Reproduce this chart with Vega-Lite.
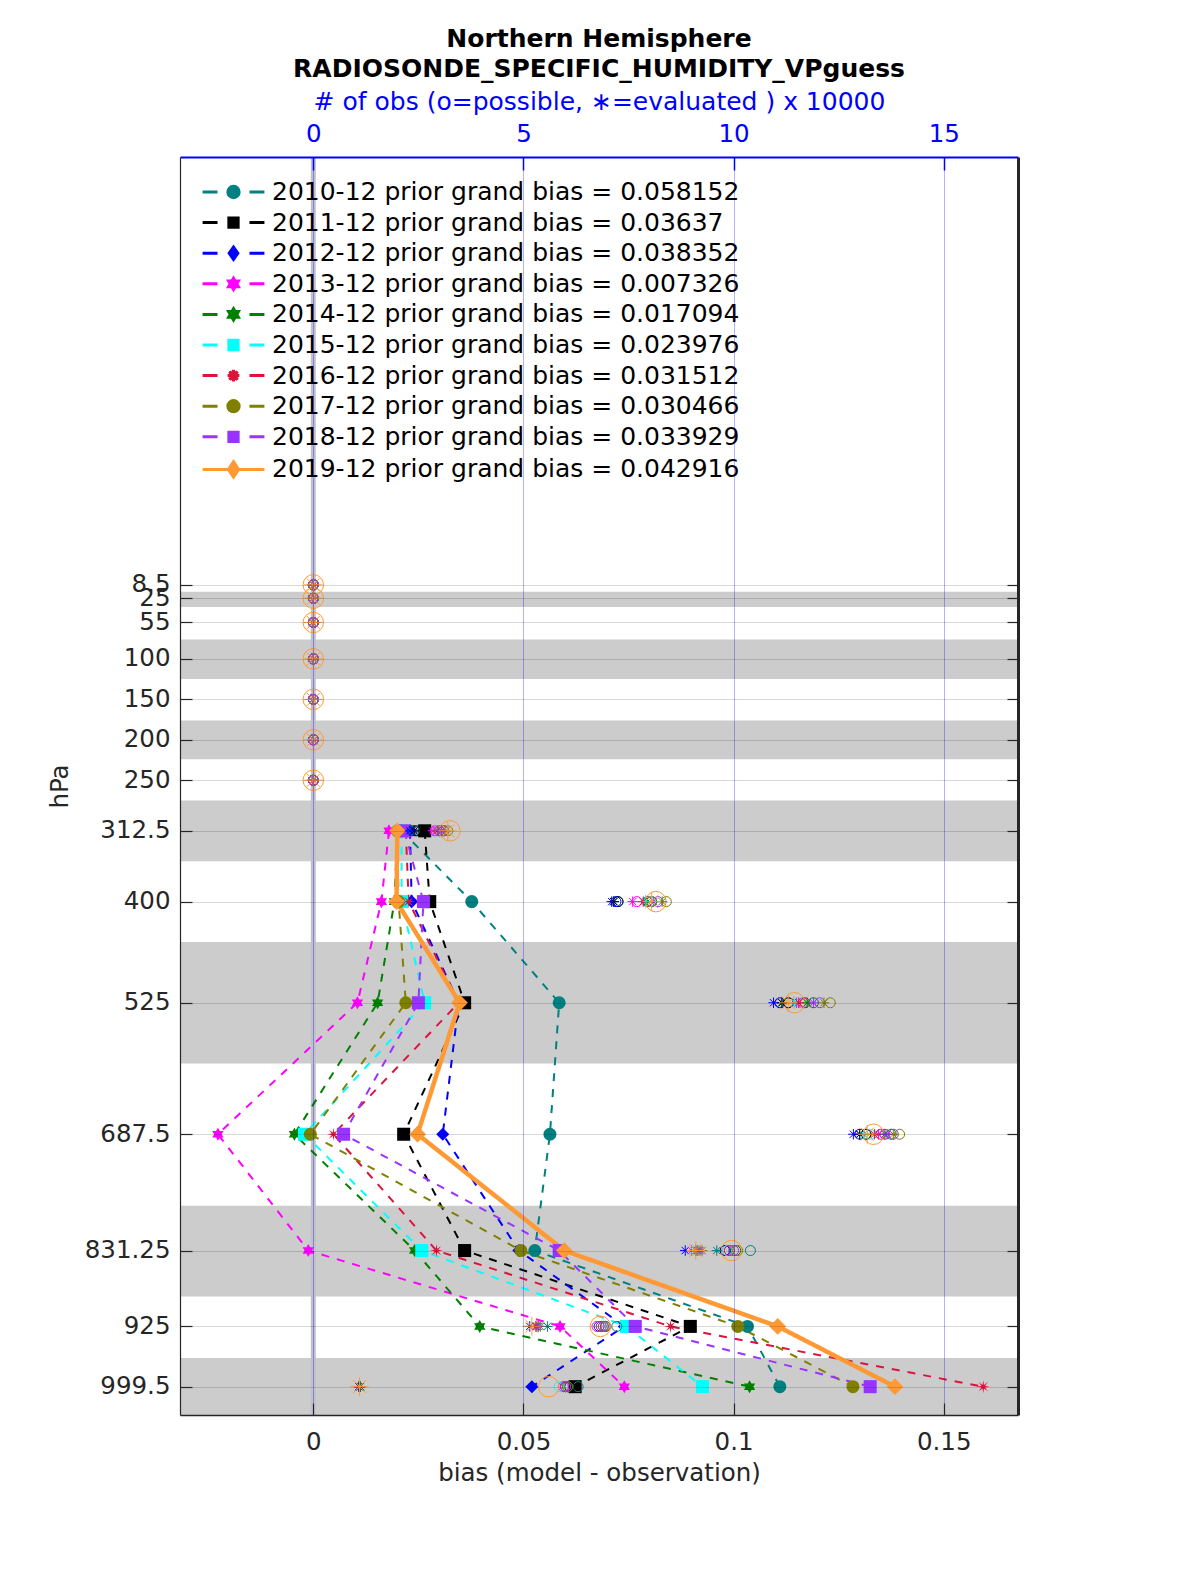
{
  "$schema": "https://vega.github.io/schema/vega-lite/v6.json",
  "width": 838,
  "height": 1258,
  "autosize": {"type": "none"},
  "padding": {"left": 180, "top": 157, "right": 182, "bottom": 160},
  "background": "white",
  "config": {"view": {"stroke": null}, "font": "DejaVu Sans"},
  "title": {
    "text": ["Northern Hemisphere", "RADIOSONDE_SPECIFIC_HUMIDITY_VPguess"],
    "font": "DejaVu Sans", "fontSize": 25, "fontWeight": "bold", "color": "#000000",
    "lineHeight": 30, "anchor": "middle", "offset": 7
  },
  "datasets": {
    "bands": [
      {"lo": 17, "hi": 36}, {"lo": 76, "hi": 125}, {"lo": 176, "hi": 224},
      {"lo": 275, "hi": 350}, {"lo": 450, "hi": 600}, {"lo": 776, "hi": 888}, {"lo": 964, "hi": 1034.5}
    ],
    "bias": [
      {"s": "2010-12", "p": 312.5, "b": 0.021}, {"s": "2010-12", "p": 400, "b": 0.0377}, {"s": "2010-12", "p": 525, "b": 0.0585}, {"s": "2010-12", "p": 687.5, "b": 0.0563}, {"s": "2010-12", "p": 831.25, "b": 0.0527}, {"s": "2010-12", "p": 925, "b": 0.1033}, {"s": "2010-12", "p": 999.5, "b": 0.111},
      {"s": "2011-12", "p": 312.5, "b": 0.0265}, {"s": "2011-12", "p": 400, "b": 0.0277}, {"s": "2011-12", "p": 525, "b": 0.036}, {"s": "2011-12", "p": 687.5, "b": 0.0215}, {"s": "2011-12", "p": 831.25, "b": 0.036}, {"s": "2011-12", "p": 925, "b": 0.0897}, {"s": "2011-12", "p": 999.5, "b": 0.0623},
      {"s": "2012-12", "p": 312.5, "b": 0.023}, {"s": "2012-12", "p": 400, "b": 0.0234}, {"s": "2012-12", "p": 525, "b": 0.0346}, {"s": "2012-12", "p": 687.5, "b": 0.0308}, {"s": "2012-12", "p": 831.25, "b": 0.0489}, {"s": "2012-12", "p": 925, "b": 0.074}, {"s": "2012-12", "p": 999.5, "b": 0.052},
      {"s": "2013-12", "p": 312.5, "b": 0.018}, {"s": "2013-12", "p": 400, "b": 0.0162}, {"s": "2013-12", "p": 525, "b": 0.0105}, {"s": "2013-12", "p": 687.5, "b": -0.0227}, {"s": "2013-12", "p": 831.25, "b": -0.0012}, {"s": "2013-12", "p": 925, "b": 0.0587}, {"s": "2013-12", "p": 999.5, "b": 0.074},
      {"s": "2014-12", "p": 312.5, "b": 0.02}, {"s": "2014-12", "p": 400, "b": 0.0193}, {"s": "2014-12", "p": 525, "b": 0.0153}, {"s": "2014-12", "p": 687.5, "b": -0.0045}, {"s": "2014-12", "p": 831.25, "b": 0.0241}, {"s": "2014-12", "p": 925, "b": 0.0396}, {"s": "2014-12", "p": 999.5, "b": 0.1038},
      {"s": "2015-12", "p": 312.5, "b": 0.021}, {"s": "2015-12", "p": 400, "b": 0.021}, {"s": "2015-12", "p": 525, "b": 0.0265}, {"s": "2015-12", "p": 687.5, "b": -0.0021}, {"s": "2015-12", "p": 831.25, "b": 0.0258}, {"s": "2015-12", "p": 925, "b": 0.0745}, {"s": "2015-12", "p": 999.5, "b": 0.0926},
      {"s": "2016-12", "p": 312.5, "b": 0.022}, {"s": "2016-12", "p": 400, "b": 0.0227}, {"s": "2016-12", "p": 525, "b": 0.0346}, {"s": "2016-12", "p": 687.5, "b": 0.0048}, {"s": "2016-12", "p": 831.25, "b": 0.0293}, {"s": "2016-12", "p": 925, "b": 0.085}, {"s": "2016-12", "p": 999.5, "b": 0.1594},
      {"s": "2017-12", "p": 312.5, "b": 0.02}, {"s": "2017-12", "p": 400, "b": 0.0203}, {"s": "2017-12", "p": 525, "b": 0.022}, {"s": "2017-12", "p": 687.5, "b": -0.0007}, {"s": "2017-12", "p": 831.25, "b": 0.0494}, {"s": "2017-12", "p": 925, "b": 0.101}, {"s": "2017-12", "p": 999.5, "b": 0.1284},
      {"s": "2018-12", "p": 312.5, "b": 0.0217}, {"s": "2018-12", "p": 400, "b": 0.0262}, {"s": "2018-12", "p": 525, "b": 0.025}, {"s": "2018-12", "p": 687.5, "b": 0.0072}, {"s": "2018-12", "p": 831.25, "b": 0.0585}, {"s": "2018-12", "p": 925, "b": 0.0766}, {"s": "2018-12", "p": 999.5, "b": 0.1325},
      {"s": "2019-12", "p": 312.5, "b": 0.02}, {"s": "2019-12", "p": 400, "b": 0.0198}, {"s": "2019-12", "p": 525, "b": 0.0348}, {"s": "2019-12", "p": 687.5, "b": 0.0248}, {"s": "2019-12", "p": 831.25, "b": 0.0597}, {"s": "2019-12", "p": 925, "b": 0.1105}, {"s": "2019-12", "p": 999.5, "b": 0.1384}
    ],
    "obs": [
      {"s": "2010-12", "p": 8.5, "poss": 0, "ev": 0}, {"s": "2010-12", "p": 25, "poss": 0, "ev": 0}, {"s": "2010-12", "p": 55, "poss": 0, "ev": 0}, {"s": "2010-12", "p": 100, "poss": 0, "ev": 0}, {"s": "2010-12", "p": 150, "poss": 0, "ev": 0}, {"s": "2010-12", "p": 200, "poss": 0, "ev": 0}, {"s": "2010-12", "p": 250, "poss": 0, "ev": 0},
      {"s": "2010-12", "p": 312.5, "poss": 2.4, "ev": 2.35}, {"s": "2010-12", "p": 400, "poss": 7.25, "ev": 7.15}, {"s": "2010-12", "p": 525, "poss": 11.3, "ev": 11.15}, {"s": "2010-12", "p": 687.5, "poss": 13.15, "ev": 13.0}, {"s": "2010-12", "p": 831.25, "poss": 10.4, "ev": 9.6}, {"s": "2010-12", "p": 925, "poss": 7.22, "ev": 5.57}, {"s": "2010-12", "p": 999.5, "poss": 6.3, "ev": 1.12},
      {"s": "2011-12", "p": 8.5, "poss": 0, "ev": 0}, {"s": "2011-12", "p": 25, "poss": 0, "ev": 0}, {"s": "2011-12", "p": 55, "poss": 0, "ev": 0}, {"s": "2011-12", "p": 100, "poss": 0, "ev": 0}, {"s": "2011-12", "p": 150, "poss": 0, "ev": 0}, {"s": "2011-12", "p": 200, "poss": 0, "ev": 0}, {"s": "2011-12", "p": 250, "poss": 0, "ev": 0},
      {"s": "2011-12", "p": 312.5, "poss": 2.45, "ev": 2.4}, {"s": "2011-12", "p": 400, "poss": 7.25, "ev": 7.15}, {"s": "2011-12", "p": 525, "poss": 11.3, "ev": 11.15}, {"s": "2011-12", "p": 687.5, "poss": 13.15, "ev": 13.0}, {"s": "2011-12", "p": 831.25, "poss": 9.8, "ev": 9.1}, {"s": "2011-12", "p": 925, "poss": 6.95, "ev": 5.3}, {"s": "2011-12", "p": 999.5, "poss": 6.1, "ev": 1.1},
      {"s": "2012-12", "p": 8.5, "poss": 0, "ev": 0}, {"s": "2012-12", "p": 25, "poss": 0, "ev": 0}, {"s": "2012-12", "p": 55, "poss": 0, "ev": 0}, {"s": "2012-12", "p": 100, "poss": 0, "ev": 0}, {"s": "2012-12", "p": 150, "poss": 0, "ev": 0}, {"s": "2012-12", "p": 200, "poss": 0, "ev": 0}, {"s": "2012-12", "p": 250, "poss": 0, "ev": 0},
      {"s": "2012-12", "p": 312.5, "poss": 2.35, "ev": 2.3}, {"s": "2012-12", "p": 400, "poss": 7.2, "ev": 7.1}, {"s": "2012-12", "p": 525, "poss": 11.1, "ev": 10.95}, {"s": "2012-12", "p": 687.5, "poss": 13.0, "ev": 12.85}, {"s": "2012-12", "p": 831.25, "poss": 9.8, "ev": 8.85}, {"s": "2012-12", "p": 925, "poss": 6.8, "ev": 5.15}, {"s": "2012-12", "p": 999.5, "poss": 6.0, "ev": 1.08},
      {"s": "2013-12", "p": 8.5, "poss": 0, "ev": 0}, {"s": "2013-12", "p": 25, "poss": 0, "ev": 0}, {"s": "2013-12", "p": 55, "poss": 0, "ev": 0}, {"s": "2013-12", "p": 100, "poss": 0, "ev": 0}, {"s": "2013-12", "p": 150, "poss": 0, "ev": 0}, {"s": "2013-12", "p": 200, "poss": 0, "ev": 0}, {"s": "2013-12", "p": 250, "poss": 0, "ev": 0},
      {"s": "2013-12", "p": 312.5, "poss": 2.9, "ev": 2.85}, {"s": "2013-12", "p": 400, "poss": 7.7, "ev": 7.6}, {"s": "2013-12", "p": 525, "poss": 11.65, "ev": 11.5}, {"s": "2013-12", "p": 687.5, "poss": 13.6, "ev": 13.45}, {"s": "2013-12", "p": 831.25, "poss": 9.85, "ev": 9.0}, {"s": "2013-12", "p": 925, "poss": 6.75, "ev": 5.3}, {"s": "2013-12", "p": 999.5, "poss": 5.95, "ev": 1.1},
      {"s": "2014-12", "p": 8.5, "poss": 0, "ev": 0}, {"s": "2014-12", "p": 25, "poss": 0, "ev": 0}, {"s": "2014-12", "p": 55, "poss": 0, "ev": 0}, {"s": "2014-12", "p": 100, "poss": 0, "ev": 0}, {"s": "2014-12", "p": 150, "poss": 0, "ev": 0}, {"s": "2014-12", "p": 200, "poss": 0, "ev": 0}, {"s": "2014-12", "p": 250, "poss": 0, "ev": 0},
      {"s": "2014-12", "p": 312.5, "poss": 3.1, "ev": 3.05}, {"s": "2014-12", "p": 400, "poss": 8.05, "ev": 7.95}, {"s": "2014-12", "p": 525, "poss": 11.9, "ev": 11.75}, {"s": "2014-12", "p": 687.5, "poss": 13.75, "ev": 13.6}, {"s": "2014-12", "p": 831.25, "poss": 10.05, "ev": 9.15}, {"s": "2014-12", "p": 925, "poss": 6.9, "ev": 5.35}, {"s": "2014-12", "p": 999.5, "poss": 6.05, "ev": 1.12},
      {"s": "2015-12", "p": 8.5, "poss": 0, "ev": 0}, {"s": "2015-12", "p": 25, "poss": 0, "ev": 0}, {"s": "2015-12", "p": 55, "poss": 0, "ev": 0}, {"s": "2015-12", "p": 100, "poss": 0, "ev": 0}, {"s": "2015-12", "p": 150, "poss": 0, "ev": 0}, {"s": "2015-12", "p": 200, "poss": 0, "ev": 0}, {"s": "2015-12", "p": 250, "poss": 0, "ev": 0},
      {"s": "2015-12", "p": 312.5, "poss": 3.0, "ev": 2.95}, {"s": "2015-12", "p": 400, "poss": 8.0, "ev": 7.9}, {"s": "2015-12", "p": 525, "poss": 11.6, "ev": 11.45}, {"s": "2015-12", "p": 687.5, "poss": 13.25, "ev": 13.1}, {"s": "2015-12", "p": 831.25, "poss": 9.85, "ev": 9.05}, {"s": "2015-12", "p": 925, "poss": 6.85, "ev": 5.4}, {"s": "2015-12", "p": 999.5, "poss": 5.85, "ev": 1.1},
      {"s": "2016-12", "p": 8.5, "poss": 0, "ev": 0}, {"s": "2016-12", "p": 25, "poss": 0, "ev": 0}, {"s": "2016-12", "p": 55, "poss": 0, "ev": 0}, {"s": "2016-12", "p": 100, "poss": 0, "ev": 0}, {"s": "2016-12", "p": 150, "poss": 0, "ev": 0}, {"s": "2016-12", "p": 200, "poss": 0, "ev": 0}, {"s": "2016-12", "p": 250, "poss": 0, "ev": 0},
      {"s": "2016-12", "p": 312.5, "poss": 3.0, "ev": 2.95}, {"s": "2016-12", "p": 400, "poss": 7.95, "ev": 7.85}, {"s": "2016-12", "p": 525, "poss": 11.7, "ev": 11.55}, {"s": "2016-12", "p": 687.5, "poss": 13.5, "ev": 13.35}, {"s": "2016-12", "p": 831.25, "poss": 9.9, "ev": 9.1}, {"s": "2016-12", "p": 925, "poss": 6.85, "ev": 5.3}, {"s": "2016-12", "p": 999.5, "poss": 6.0, "ev": 1.1},
      {"s": "2017-12", "p": 8.5, "poss": 0, "ev": 0}, {"s": "2017-12", "p": 25, "poss": 0, "ev": 0}, {"s": "2017-12", "p": 55, "poss": 0, "ev": 0}, {"s": "2017-12", "p": 100, "poss": 0, "ev": 0}, {"s": "2017-12", "p": 150, "poss": 0, "ev": 0}, {"s": "2017-12", "p": 200, "poss": 0, "ev": 0}, {"s": "2017-12", "p": 250, "poss": 0, "ev": 0},
      {"s": "2017-12", "p": 312.5, "poss": 3.2, "ev": 3.15}, {"s": "2017-12", "p": 400, "poss": 8.4, "ev": 8.3}, {"s": "2017-12", "p": 525, "poss": 12.3, "ev": 12.15}, {"s": "2017-12", "p": 687.5, "poss": 13.95, "ev": 13.8}, {"s": "2017-12", "p": 831.25, "poss": 10.1, "ev": 9.25}, {"s": "2017-12", "p": 925, "poss": 6.95, "ev": 5.4}, {"s": "2017-12", "p": 999.5, "poss": 6.05, "ev": 1.1},
      {"s": "2018-12", "p": 8.5, "poss": 0, "ev": 0}, {"s": "2018-12", "p": 25, "poss": 0, "ev": 0}, {"s": "2018-12", "p": 55, "poss": 0, "ev": 0}, {"s": "2018-12", "p": 100, "poss": 0, "ev": 0}, {"s": "2018-12", "p": 150, "poss": 0, "ev": 0}, {"s": "2018-12", "p": 200, "poss": 0, "ev": 0}, {"s": "2018-12", "p": 250, "poss": 0, "ev": 0},
      {"s": "2018-12", "p": 312.5, "poss": 3.1, "ev": 3.05}, {"s": "2018-12", "p": 400, "poss": 8.2, "ev": 8.1}, {"s": "2018-12", "p": 525, "poss": 12.05, "ev": 11.9}, {"s": "2018-12", "p": 687.5, "poss": 13.8, "ev": 13.65}, {"s": "2018-12", "p": 831.25, "poss": 10.0, "ev": 9.2}, {"s": "2018-12", "p": 925, "poss": 6.9, "ev": 5.35}, {"s": "2018-12", "p": 999.5, "poss": 6.0, "ev": 1.1},
      {"s": "2019-12", "p": 8.5, "poss": 0, "ev": 0}, {"s": "2019-12", "p": 25, "poss": 0, "ev": 0}, {"s": "2019-12", "p": 55, "poss": 0, "ev": 0}, {"s": "2019-12", "p": 100, "poss": 0, "ev": 0}, {"s": "2019-12", "p": 150, "poss": 0, "ev": 0}, {"s": "2019-12", "p": 200, "poss": 0, "ev": 0}, {"s": "2019-12", "p": 250, "poss": 0, "ev": 0},
      {"s": "2019-12", "p": 312.5, "poss": 3.25, "ev": 3.2}, {"s": "2019-12", "p": 400, "poss": 8.15, "ev": 8.05}, {"s": "2019-12", "p": 525, "poss": 11.45, "ev": 11.3}, {"s": "2019-12", "p": 687.5, "poss": 13.33, "ev": 13.18}, {"s": "2019-12", "p": 831.25, "poss": 9.95, "ev": 9.1}, {"s": "2019-12", "p": 925, "poss": 6.83, "ev": 5.2}, {"s": "2019-12", "p": 999.5, "poss": 5.6, "ev": 1.1}
    ],
    "legend": [
      {"label": "2010-12 prior grand bias = 0.058152"},
      {"label": "2011-12 prior grand bias = 0.03637"},
      {"label": "2012-12 prior grand bias = 0.038352"},
      {"label": "2013-12 prior grand bias = 0.007326"},
      {"label": "2014-12 prior grand bias = 0.017094"},
      {"label": "2015-12 prior grand bias = 0.023976"},
      {"label": "2016-12 prior grand bias = 0.031512"},
      {"label": "2017-12 prior grand bias = 0.030466"},
      {"label": "2018-12 prior grand bias = 0.033929"},
      {"label": "2019-12 prior grand bias = 0.042916"}
    ]
  },
  "layer": [
    {
      "layer": [
        {
          "data": {"name": "bands"},
          "mark": {"type": "rect", "color": "#cccccc"},
          "encoding": {
            "y": {
              "field": "lo", "type": "quantitative",
              "scale": {"domain": [-520.3, 1034.5], "reverse": true, "nice": false, "zero": false},
              "axis": {
                "orient": "left",
                "values": [8.5, 25, 55, 100, 150, 200, 250, 312.5, 400, 525, 687.5, 831.25, 925, 999.5],
                "labelExpr": "'' + datum.value",
                "labelOverlap": false, "labelFlush": false, "labelBound": false,
                "labelFontSize": 24.5, "labelColor": "#262626", "labelFont": "DejaVu Sans",
                "labelPadding": 22,
                "tickSize": -12, "tickColor": "#262626", "tickWidth": 1.2,
                "domainColor": "#262626", "domainWidth": 1.2,
                "grid": true, "gridColor": "#000000", "gridOpacity": 0.15,
                "title": "hPa", "titleFontSize": 24.5, "titleFontWeight": "normal", "titleColor": "#262626", "titleFont": "DejaVu Sans", "titlePadding": 12,
                "zindex": 1
              }
            },
            "y2": {"field": "hi"}
          }
        },
        {
          "data": {"values": [{"b": 0}]},
          "mark": {"type": "rule", "color": "#c0c0c8", "strokeWidth": 5},
          "encoding": {
            "x": {
              "field": "b", "type": "quantitative",
              "scale": {"domain": [-0.03172, 0.16767], "nice": false, "zero": false},
              "axis": {
                "orient": "bottom",
                "values": [0, 0.05, 0.1, 0.15],
                "labelExpr": "'' + datum.value",
                "labelOverlap": false, "labelFlush": false, "labelBound": false,
                "labelFontSize": 24.5, "labelColor": "#262626", "labelFont": "DejaVu Sans",
                "labelPadding": 27,
                "tickSize": -12, "tickColor": "#262626", "tickWidth": 1.2,
                "domainColor": "#262626", "domainWidth": 1.5,
                "grid": false,
                "title": "bias (model - observation)", "titleFontSize": 24.5, "titleFontWeight": "normal", "titleColor": "#262626", "titleFont": "DejaVu Sans", "titlePadding": 8,
                "zindex": 1
              }
            }
          }
        },
        {
          "data": {"name": "bias"},
          "mark": {"type": "line", "strokeCap": "butt"},
          "encoding": {
            "x": {"field": "b", "type": "quantitative"},
            "y": {"field": "p", "type": "quantitative"},
            "order": {"field": "p", "type": "quantitative"},
            "color": {
              "field": "s", "type": "nominal", "legend": null,
              "scale": {
                "domain": ["2010-12", "2011-12", "2012-12", "2013-12", "2014-12", "2015-12", "2016-12", "2017-12", "2018-12", "2019-12"],
                "range": ["#008080", "#000000", "#0000ff", "#ff00ff", "#008000", "#00ffff", "#dc143c", "#808000", "#9933ff", "#ff9933"]
              }
            },
            "strokeDash": {"condition": {"test": "datum.s === '2019-12'", "value": [1, 0]}, "value": [8, 8]},
            "strokeWidth": {"condition": {"test": "datum.s === '2019-12'", "value": 4.5}, "value": 2}
          }
        },
        {
          "data": {"name": "bias"},
          "mark": {"type": "point", "filled": true, "opacity": 1},
          "encoding": {
            "x": {"field": "b", "type": "quantitative"},
            "y": {"field": "p", "type": "quantitative"},
            "color": {
              "field": "s", "type": "nominal", "legend": null,
              "scale": {
                "domain": ["2010-12", "2011-12", "2012-12", "2013-12", "2014-12", "2015-12", "2016-12", "2017-12", "2018-12", "2019-12"],
                "range": ["#008080", "#000000", "#0000ff", "#ff00ff", "#008000", "#00ffff", "#dc143c", "#808000", "#9933ff", "#ff9933"]
              }
            },
            "shape": {
              "field": "s", "type": "nominal", "legend": null,
              "scale": {
                "domain": ["2010-12", "2011-12", "2012-12", "2013-12", "2014-12", "2015-12", "2016-12", "2017-12", "2018-12", "2019-12"],
                "range": [
                  "circle", "square", "diamond",
                  "M0,-1L0.289,-0.5L0.866,-0.5L0.577,0L0.866,0.5L0.289,0.5L0,1L-0.289,0.5L-0.866,0.5L-0.577,0L-0.866,-0.5L-0.289,-0.5Z",
                  "M0,-1L0.289,-0.5L0.866,-0.5L0.577,0L0.866,0.5L0.289,0.5L0,1L-0.289,0.5L-0.866,0.5L-0.577,0L-0.866,-0.5L-0.289,-0.5Z",
                  "square",
                  "M1,0L0.277,0.115L0.707,0.707L0.115,0.277L0,1L-0.115,0.277L-0.707,0.707L-0.277,0.115L-1,0L-0.277,-0.115L-0.707,-0.707L-0.115,-0.277L0,-1L0.115,-0.277L0.707,-0.707L0.277,-0.115Z",
                  "circle", "square", "diamond"
                ]
              }
            },
            "size": {"condition": {"test": "datum.s === '2019-12'", "value": 280}, "value": 170}
          }
        }
      ]
    },
    {
      "layer": [
        {
          "data": {"name": "obs"},
          "mark": {"type": "point", "filled": false, "shape": "circle", "strokeWidth": 1, "opacity": 1},
          "encoding": {
            "x": {
              "field": "poss", "type": "quantitative",
              "scale": {"domain": [-3.172, 16.767], "nice": false, "zero": false},
              "axis": {
                "orient": "top",
                "values": [0, 5, 10, 15],
                "labelOverlap": false, "labelFlush": false, "labelBound": false,
                "labelFontSize": 24.5, "labelColor": "#0000ff", "labelFont": "DejaVu Sans",
                "labelPadding": 24,
                "tickSize": -13, "tickColor": "#0000ff", "tickWidth": 1.5,
                "domainColor": "#0000ff", "domainWidth": 2,
                "grid": true, "gridColor": "#0000ff", "gridOpacity": 0.3,
                "title": "# of obs (o=possible, \u2217=evaluated ) x 10000", "titleFontSize": 25, "titleFontWeight": "normal", "titleColor": "#0000ff", "titleFont": "DejaVu Sans", "titlePadding": 7,
                "zindex": 1
              }
            },
            "y": {
              "field": "p", "type": "quantitative",
              "axis": {
                "orient": "right",
                "values": [8.5, 25, 55, 100, 150, 200, 250, 312.5, 400, 525, 687.5, 831.25, 925, 999.5],
                "labels": false, "title": null, "grid": false,
                "tickSize": -11, "tickColor": "#262626", "tickWidth": 1.2,
                "domainColor": "#262626", "domainWidth": 3,
                "zindex": 1
              }
            },
            "color": {
              "field": "s", "type": "nominal", "legend": null,
              "scale": {
                "domain": ["2010-12", "2011-12", "2012-12", "2013-12", "2014-12", "2015-12", "2016-12", "2017-12", "2018-12", "2019-12"],
                "range": ["#008080", "#000000", "#0000ff", "#ff00ff", "#008000", "#00ffff", "#dc143c", "#808000", "#9933ff", "#ff9933"]
              }
            },
            "size": {"condition": {"test": "datum.s === '2019-12'", "value": 420}, "value": 100}
          }
        },
        {
          "data": {"name": "obs"},
          "mark": {"type": "point", "filled": false, "strokeWidth": 1, "opacity": 1,
                   "shape": "M-1,0L1,0M0,-1L0,1M-0.7,-0.7L0.7,0.7M-0.7,0.7L0.7,-0.7"},
          "encoding": {
            "x": {"field": "ev", "type": "quantitative"},
            "y": {"field": "p", "type": "quantitative"},
            "color": {
              "field": "s", "type": "nominal", "legend": null,
              "scale": {
                "domain": ["2010-12", "2011-12", "2012-12", "2013-12", "2014-12", "2015-12", "2016-12", "2017-12", "2018-12", "2019-12"],
                "range": ["#008080", "#000000", "#0000ff", "#ff00ff", "#008000", "#00ffff", "#dc143c", "#808000", "#9933ff", "#ff9933"]
              }
            },
            "size": {"condition": {"test": "datum.s === '2019-12'", "value": 340}, "value": 110}
          }
        }
      ]
    },
    {
      "data": {"name": "legend"},
      "mark": {"type": "point", "filled": true, "opacity": 0},
      "encoding": {
        "fill": {
          "field": "label", "type": "nominal",
          "scale": {
            "domain": ["2010-12 prior grand bias = 0.058152", "2011-12 prior grand bias = 0.03637", "2012-12 prior grand bias = 0.038352", "2013-12 prior grand bias = 0.007326", "2014-12 prior grand bias = 0.017094", "2015-12 prior grand bias = 0.023976", "2016-12 prior grand bias = 0.031512", "2017-12 prior grand bias = 0.030466", "2018-12 prior grand bias = 0.033929", "2019-12 prior grand bias = 0.042916"],
            "range": ["#008080", "#000000", "#0000ff", "#ff00ff", "#008000", "#00ffff", "#dc143c", "#808000", "#9933ff", "#ff9933"]
          },
          "legend": {"orient": "none", "legendX": 41, "legendY": 22.5, "title": null, "labelFontSize": 25, "labelFont": "DejaVu Sans", "labelColor": "#000000", "labelLimit": 0, "symbolSize": 425, "symbolStrokeWidth": 3, "symbolOpacity": 1, "labelOffset": 26, "rowPadding": 4.6, "padding": 0}
        },
        "stroke": {
          "field": "label", "type": "nominal",
          "scale": {
            "domain": ["2010-12 prior grand bias = 0.058152", "2011-12 prior grand bias = 0.03637", "2012-12 prior grand bias = 0.038352", "2013-12 prior grand bias = 0.007326", "2014-12 prior grand bias = 0.017094", "2015-12 prior grand bias = 0.023976", "2016-12 prior grand bias = 0.031512", "2017-12 prior grand bias = 0.030466", "2018-12 prior grand bias = 0.033929", "2019-12 prior grand bias = 0.042916"],
            "range": ["#008080", "#000000", "#0000ff", "#ff00ff", "#008000", "#00ffff", "#dc143c", "#808000", "#9933ff", "#ff9933"]
          },
          "legend": {"orient": "none", "legendX": 41, "legendY": 22.5, "title": null, "labelFontSize": 25, "labelFont": "DejaVu Sans", "labelColor": "#000000", "labelLimit": 0, "symbolSize": 425, "symbolStrokeWidth": 3, "symbolOpacity": 1, "labelOffset": 26, "rowPadding": 4.6, "padding": 0}
        },
        "shape": {
          "field": "label", "type": "nominal",
          "scale": {
            "domain": ["2010-12 prior grand bias = 0.058152", "2011-12 prior grand bias = 0.03637", "2012-12 prior grand bias = 0.038352", "2013-12 prior grand bias = 0.007326", "2014-12 prior grand bias = 0.017094", "2015-12 prior grand bias = 0.023976", "2016-12 prior grand bias = 0.031512", "2017-12 prior grand bias = 0.030466", "2018-12 prior grand bias = 0.033929", "2019-12 prior grand bias = 0.042916"],
            "range": [
              "M-3,0L-1.55,0M1.55,0L3,0M-0.55,0A0.55,0.55 0 1,0 0.55,0A0.55,0.55 0 1,0 -0.55,0Z",
              "M-3,0L-1.55,0M1.55,0L3,0M-0.45,-0.45L0.45,-0.45L0.45,0.45L-0.45,0.45Z",
              "M-3,0L-1.55,0M1.55,0L3,0M0,-0.6L0.42,0L0,0.6L-0.42,0Z",
              "M-3,0L-1.55,0M1.55,0L3,0M0,-0.55L0.159,-0.275L0.476,-0.275L0.318,0L0.476,0.275L0.159,0.275L0,0.55L-0.159,0.275L-0.476,0.275L-0.318,0L-0.476,-0.275L-0.159,-0.275Z",
              "M-3,0L-1.55,0M1.55,0L3,0M0,-0.55L0.159,-0.275L0.476,-0.275L0.318,0L0.476,0.275L0.159,0.275L0,0.55L-0.159,0.275L-0.476,0.275L-0.318,0L-0.476,-0.275L-0.159,-0.275Z",
              "M-3,0L-1.55,0M1.55,0L3,0M-0.45,-0.45L0.45,-0.45L0.45,0.45L-0.45,0.45Z",
              "M-3,0L-1.55,0M1.55,0L3,0M0.55,0L0.152,0.063L0.389,0.389L0.063,0.152L0,0.55L-0.063,0.152L-0.389,0.389L-0.152,0.063L-0.55,0L-0.152,-0.063L-0.389,-0.389L-0.063,-0.152L0,-0.55L0.063,-0.152L0.389,-0.389L0.152,-0.063Z",
              "M-3,0L-1.55,0M1.55,0L3,0M-0.55,0A0.55,0.55 0 1,0 0.55,0A0.55,0.55 0 1,0 -0.55,0Z",
              "M-3,0L-1.55,0M1.55,0L3,0M-0.45,-0.45L0.45,-0.45L0.45,0.45L-0.45,0.45Z",
              "M-3,0L3,0M0,-0.75L0.5,0L0,0.75L-0.5,0Z"
            ]
          },
          "legend": {"orient": "none", "legendX": 41, "legendY": 22.5, "title": null, "labelFontSize": 25, "labelFont": "DejaVu Sans", "labelColor": "#000000", "labelLimit": 0, "symbolSize": 425, "symbolStrokeWidth": 3, "symbolOpacity": 1, "labelOffset": 26, "rowPadding": 4.6, "padding": 0}
        }
      }
    }
  ],
  "resolve": {"scale": {"x": "independent", "color": "independent", "fill": "independent", "stroke": "independent", "shape": "independent"}}
}
